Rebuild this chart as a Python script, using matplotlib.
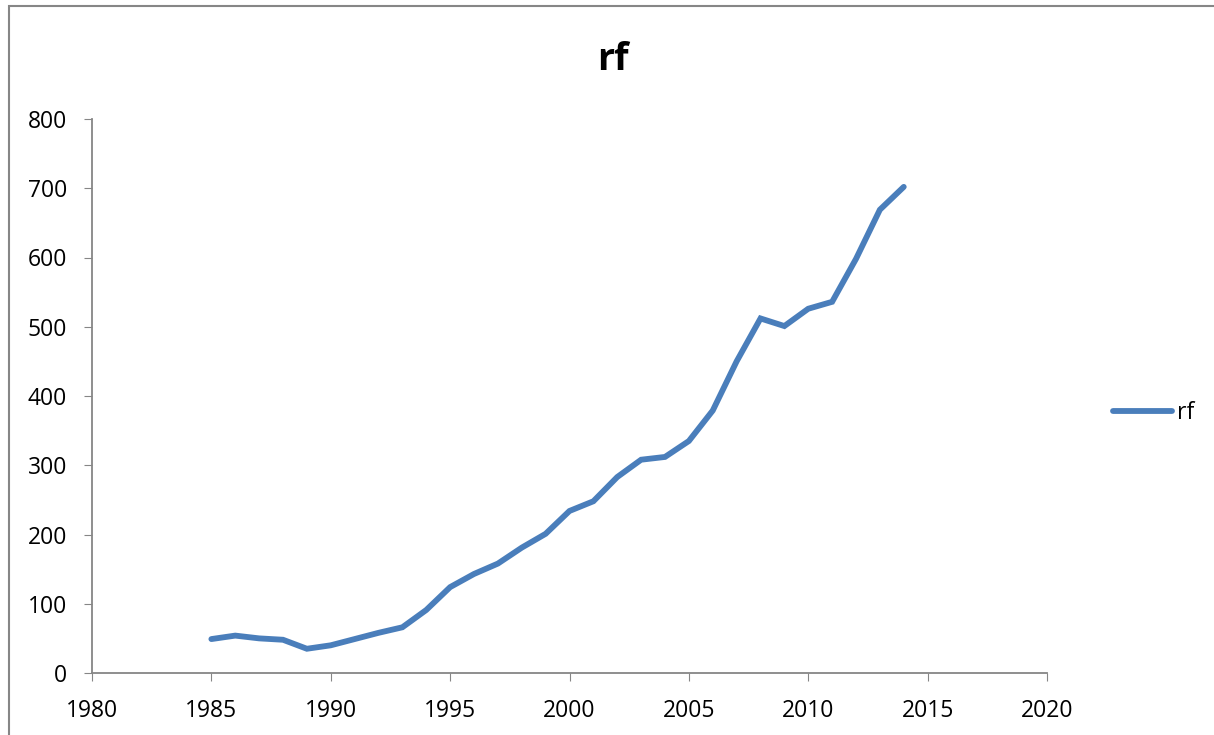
import matplotlib
matplotlib.use("Agg")
import matplotlib.pyplot as plt
from matplotlib.patches import Rectangle

years = list(range(1985, 2015))
rf = [49, 54, 50, 48, 35, 40, 49, 58, 66, 91,
      124, 143, 158, 181, 201, 234, 248, 283, 308, 312,
      335, 379, 450, 512, 501, 526, 536, 598, 669, 702]

LINE_COLOUR = "#4a7ebb"
AXIS_GREY = "#868686"

plt.rcParams["font.family"] = ["Open Sans", "DejaVu Sans"]

fig = plt.figure(figsize=(12.14, 7.35), dpi=100)
ax = fig.add_axes([92 / 1214, 1 - 673 / 735, (1047 - 92) / 1214, (673 - 119) / 735])

ax.plot(years, rf, color=LINE_COLOUR, linewidth=4.2, label="rf",
        solid_capstyle="round", solid_joinstyle="miter")

ax.set_xlim(1980, 2020)
ax.set_ylim(0, 800)
ax.set_xticks(range(1980, 2021, 5))
ax.set_yticks(range(0, 801, 100))
ax.tick_params(direction="out", length=6, color=AXIS_GREY, labelsize=16.5)
ax.tick_params(axis="x", pad=13)
ax.tick_params(axis="y", pad=12)
for side in ("top", "right"):
    ax.spines[side].set_visible(False)
for side in ("left", "bottom"):
    ax.spines[side].set_color(AXIS_GREY)
    ax.spines[side].set_linewidth(1.3)

fig.text(613 / 1214, 1 - 60 / 735, "rf", ha="center", va="center",
         fontsize=27, fontweight="bold")

ax.legend(loc="center left", bbox_to_anchor=(1092 / 1214, 1 - 413 / 735),
          bbox_transform=fig.transFigure, frameon=False, fontsize=16.5,
          handlelength=2.6, handletextpad=0.2)

# outer chart-area border
fig.patches.append(Rectangle((9 / 1214, -0.05), 1.2, 1 - 6 / 735 + 0.05,
                             transform=fig.transFigure, fill=False,
                             edgecolor=AXIS_GREY, linewidth=1.5))

fig.savefig("out.png", dpi=100)
